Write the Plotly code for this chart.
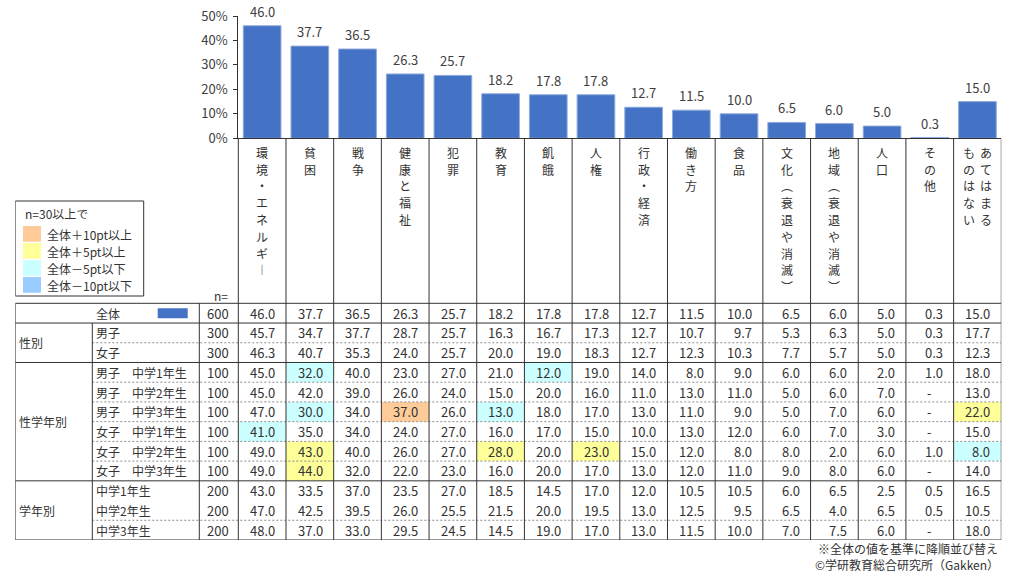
import plotly.graph_objects as go

# ---------------- data ----------------
categories = ["環境・エネルギー", "貧困", "戦争", "健康と福祉", "犯罪", "教育", "飢餓", "人権",
              "行政・経済", "働き方", "食品", "文化（衰退や消滅）", "地域（衰退や消滅）", "人口",
              "その他", "あてはまるものはない"]
overall = [46.0, 37.7, 36.5, 26.3, 25.7, 18.2, 17.8, 17.8, 12.7, 11.5, 10.0, 6.5, 6.0, 5.0, 0.3, 15.0]
boys = [45.7, 34.7, 37.7, 28.7, 25.7, 16.3, 16.7, 17.3, 12.7, 10.7, 9.7, 5.3, 6.3, 5.0, 0.3, 17.7]
girls = [46.3, 40.7, 35.3, 24.0, 25.7, 20.0, 19.0, 18.3, 12.7, 12.3, 10.3, 7.7, 5.7, 5.0, 0.3, 12.3]
boys_g1 = [45.0, 32.0, 40.0, 23.0, 27.0, 21.0, 12.0, 19.0, 14.0, 8.0, 9.0, 6.0, 6.0, 2.0, 1.0, 18.0]
boys_g2 = [45.0, 42.0, 39.0, 26.0, 24.0, 15.0, 20.0, 16.0, 11.0, 13.0, 11.0, 5.0, 6.0, 7.0, None, 13.0]
boys_g3 = [47.0, 30.0, 34.0, 37.0, 26.0, 13.0, 18.0, 17.0, 13.0, 11.0, 9.0, 5.0, 7.0, 6.0, None, 22.0]
girls_g1 = [41.0, 35.0, 34.0, 24.0, 27.0, 16.0, 17.0, 15.0, 10.0, 13.0, 12.0, 6.0, 7.0, 3.0, None, 15.0]
girls_g2 = [49.0, 43.0, 40.0, 26.0, 27.0, 28.0, 20.0, 23.0, 15.0, 12.0, 8.0, 8.0, 2.0, 6.0, 1.0, 8.0]
girls_g3 = [49.0, 44.0, 32.0, 22.0, 23.0, 16.0, 20.0, 17.0, 13.0, 12.0, 11.0, 9.0, 8.0, 6.0, None, 14.0]
grade1 = [43.0, 33.5, 37.0, 23.5, 27.0, 18.5, 14.5, 17.0, 12.0, 10.5, 10.5, 6.0, 6.5, 2.5, 0.5, 16.5]
grade2 = [47.0, 42.5, 39.5, 26.0, 25.5, 21.5, 20.0, 19.5, 13.0, 12.5, 9.5, 6.5, 4.0, 6.5, 0.5, 10.5]
grade3 = [48.0, 37.0, 33.0, 29.5, 24.5, 14.5, 19.0, 17.0, 13.0, 11.5, 10.0, 7.0, 7.5, 6.0, None, 18.0]

row_labels = ["全体", "男子", "女子", "男子　中学1年生", "男子　中学2年生", "男子　中学3年生",
              "女子　中学1年生", "女子　中学2年生", "女子　中学3年生", "中学1年生", "中学2年生", "中学3年生"]
row_n = [600, 300, 300, 100, 100, 100, 100, 100, 100, 200, 200, 200]
rows = [overall, boys, girls, boys_g1, boys_g2, boys_g3, girls_g1, girls_g2, girls_g3,
        grade1, grade2, grade3]
group_names = ["性別", "性学年別", "学年別"]
group_first = [1, 3, 9]
group_last = [2, 8, 11]
dashed_after = [1, 3, 4, 5, 6, 7, 10]   # dashed separator below these rows

y_ticks = [0, 10, 20, 30, 40, 50]
y_tick_text = ["0%", "10%", "20%", "30%", "40%", "50%"]
legend_title = "n=30以上で"
legend_labels = ["全体＋10pt以上", "全体＋5pt以上", "全体－5pt以下", "全体－10pt以下"]
legend_colors = ["#FFCC99", "#FFFF99", "#CCFFFF", "#99CCFF"]
note1 = "※全体の値を基準に降順並び替え"
note2 = "©学研教育総合研究所（Gakken）"

# ---------------- layout constants (pixels) ----------------
W, H = 1029, 580
FONT = "Noto Sans CJK JP, Meiryo, sans-serif"
TXT = "#333333"
LINE = "#333333"
BAR = "#4472C4"
NUM_SIZE = 13
JP_SIZE = 12

COL_L, COL_R = 238.3, 1001.3
NC = len(categories)
U = (COL_R - COL_L) / NC
TBL_L, LBL_X, N_X = 15.3, 92.3, 199.3
HDR_TOP, TAB_TOP, TAB_BOT = 138.3, 303.3, 540.0
NR = len(rows)
RH = (TAB_BOT - TAB_TOP) / NR
BAR_TOP = 16.0


def tx(p):
    """pixel x -> table axis units"""
    return -0.5 + (p - COL_L) / U


def ty(p):
    """pixel y -> table axis units"""
    return -0.5 + (p - TAB_TOP) / RH


fig = go.Figure()

fig.add_trace(go.Bar(
    x=categories, y=overall, width=0.79,
    marker=dict(color=BAR, line=dict(color="#8FAADC", width=1)),
    hovertemplate="%{x}: %{y:.1f}%<extra></extra>", showlegend=False,
))
fig.add_trace(go.Scatter(x=[None], y=[None], xaxis="x2", yaxis="y2", mode="markers",
                         showlegend=False, hoverinfo="skip"))

ann = []
shapes = []

for c, v in zip(categories, overall):
    ann.append(dict(x=c, y=v, xref="x", yref="y", text=f"{v:.1f}", showarrow=False,
                    yanchor="bottom", yshift=3, font=dict(size=NUM_SIZE, color="#404040", family=FONT)))

for i, (vals, n) in enumerate(zip(rows, row_n)):
    if i == 0 or n < 30:
        continue
    for j, v in enumerate(vals):
        if v is None:
            continue
        d = round(v - overall[j], 1)
        col = None
        if d >= 10:
            col = legend_colors[0]
        elif d >= 5:
            col = legend_colors[1]
        elif d <= -10:
            col = legend_colors[3]
        elif d <= -5:
            col = legend_colors[2]
        if col:
            shapes.append(dict(type="rect", xref="x2", yref="y2", x0=j - 0.5, x1=j + 0.5,
                               y0=i - 0.5, y1=i + 0.5, fillcolor=col, line=dict(width=0), layer="below"))


def hline(y, x0, x1, dash=None, color=LINE):
    ln = dict(color=color, width=1)
    if dash:
        ln["dash"] = dash
    shapes.append(dict(type="line", xref="x2", yref="y2", x0=x0, x1=x1, y0=y, y1=y, line=ln))


def vline(x, y0, y1):
    shapes.append(dict(type="line", xref="x2", yref="y2", x0=x, x1=x, y0=y0, y1=y1,
                       line=dict(color=LINE, width=1)))


x_right = NC - 0.5
for r in dashed_after:
    hline(r + 0.5, tx(LBL_X), x_right, dash="2px,2px", color="#8C8C8C")
for y in [-0.5, 0.5] + [g + 0.5 for g in group_last]:
    hline(y, tx(TBL_L), x_right)
vline(tx(TBL_L), -0.5, NR - 0.5)
vline(tx(LBL_X), 0.5, NR - 0.5)
vline(tx(N_X), -0.5, NR - 0.5)
for k in range(NC + 1):
    vline(k - 0.5, ty(HDR_TOP), NR - 0.5)

# series swatch in the 全体 row
shapes.append(dict(type="rect", xref="x2", yref="y2", x0=tx(157.7), x1=tx(187.7),
                   y0=ty(308.3), y1=ty(318.3), fillcolor=BAR, line=dict(width=0)))

# custom colour legend
shapes.append(dict(type="rect", xref="x2", yref="y2", x0=tx(15.3), x1=tx(143.7),
                   y0=ty(201), y1=ty(296), fillcolor="white", line=dict(color=LINE, width=1)))
ann.append(dict(x=tx(23), y=ty(213), xref="x2", yref="y2", text=legend_title, showarrow=False,
                xanchor="left", font=dict(size=JP_SIZE, color=TXT, family=FONT)))
sw_top = [226.0, 243.0, 260.0, 277.0]
for lab, col, t in zip(legend_labels, legend_colors, sw_top):
    shapes.append(dict(type="rect", xref="x2", yref="y2", x0=tx(23), x1=tx(41),
                       y0=ty(t), y1=ty(t + 15.7), fillcolor=col, line=dict(width=0)))
    ann.append(dict(x=tx(44.5), y=ty(t + 8), xref="x2", yref="y2", text=lab, showarrow=False,
                    xanchor="left", font=dict(size=JP_SIZE, color=TXT, family=FONT)))

ann.append(dict(x=tx(230), y=ty(295.5), xref="x2", yref="y2", text="n=", showarrow=False,
                xanchor="right", font=dict(size=JP_SIZE, color=TXT, family=FONT)))

# vertical category headers
VMAP = {"（": "︵", "）": "︶", "ー": "︱"}
CH0, CHS = 152.3, 16.8
for j, lab in enumerate(categories):
    if len(lab) > 9:
        cols = [(lab[:5], 8.8), (lab[5:], -8.3)]
    else:
        cols = [(lab, 0.0)]
    for text, off in cols:
        for k, ch in enumerate(text):
            ann.append(dict(x=j + off / U, y=ty(CH0 + k * CHS), xref="x2", yref="y2",
                            text=VMAP.get(ch, ch), showarrow=False,
                            font=dict(size=JP_SIZE, color=TXT, family=FONT)))

# table body
NUM_PAD = 9.0
for i, (lab, n, vals) in enumerate(zip(row_labels, row_n, rows)):
    if i == 0:
        ann.append(dict(x=tx(108.3), y=i, xref="x2", yref="y2", text=lab, showarrow=False,
                        font=dict(size=JP_SIZE, color=TXT, family=FONT)))
    else:
        ann.append(dict(x=tx(93.5), y=i, xref="x2", yref="y2", text=lab, showarrow=False,
                        xanchor="left", font=dict(size=JP_SIZE, color=TXT, family=FONT)))
    ann.append(dict(x=tx(230.5), y=i, xref="x2", yref="y2", text=str(n), showarrow=False,
                    xanchor="right", font=dict(size=NUM_SIZE, color=TXT, family=FONT)))
    for j, v in enumerate(vals):
        if v is None:
            ann.append(dict(x=j, y=i, xref="x2", yref="y2", text="-", showarrow=False,
                            font=dict(size=NUM_SIZE, color=TXT, family=FONT)))
        else:
            ann.append(dict(x=j + 0.5 - NUM_PAD / U, y=i, xref="x2", yref="y2", text=f"{v:.1f}",
                            showarrow=False, xanchor="right",
                            font=dict(size=NUM_SIZE, color=TXT, family=FONT)))

for g, a, b in zip(group_names, group_first, group_last):
    ann.append(dict(x=tx(16.5), y=(a + b) / 2, xref="x2", yref="y2", text=g, showarrow=False,
                    xanchor="left", font=dict(size=JP_SIZE, color=TXT, family=FONT)))

ann.append(dict(x=1000 / W, y=1 - 548.3 / H, xref="paper", yref="paper", text=note1,
                showarrow=False, xanchor="right", yanchor="middle",
                font=dict(size=JP_SIZE, color=TXT, family=FONT)))
ann.append(dict(x=1001 / W, y=1 - 564.5 / H, xref="paper", yref="paper", text=note2,
                showarrow=False, xanchor="right", yanchor="middle",
                font=dict(size=JP_SIZE, color=TXT, family=FONT)))

fig.update_layout(
    width=W, height=H, autosize=False,
    margin=dict(l=0, r=0, t=0, b=0, pad=0, autoexpand=False),
    paper_bgcolor="white", plot_bgcolor="rgba(0,0,0,0)",
    font=dict(family=FONT, size=12, color=TXT),
    showlegend=False,
    bargap=0,
    xaxis=dict(domain=[COL_L / W, COL_R / W], range=[-0.5, NC - 0.5], showticklabels=False,
               showline=True, linecolor=LINE, linewidth=1, ticks="", showgrid=False, zeroline=False,
               fixedrange=True, anchor="y", automargin=False),
    yaxis=dict(domain=[1 - HDR_TOP / H, 1 - BAR_TOP / H], range=[0, 50], tickmode="array",
               tickvals=y_ticks, ticktext=y_tick_text, showline=True, linecolor=LINE, linewidth=1,
               ticks="outside", ticklen=4, tickcolor=LINE, showgrid=False, zeroline=False,
               ticklabelstandoff=3, ticklabeloverflow="allow",
               tickfont=dict(size=NUM_SIZE, color="#404040", family=FONT), fixedrange=True,
               anchor="x", automargin=False),
    xaxis2=dict(domain=[TBL_L / W, COL_R / W], range=[tx(TBL_L), NC - 0.5], visible=False,
                fixedrange=True, anchor="y2", automargin=False),
    yaxis2=dict(domain=[1 - TAB_BOT / H, 1 - HDR_TOP / H], range=[NR - 0.5, ty(HDR_TOP)],
                visible=False, fixedrange=True, anchor="x2", automargin=False),
    annotations=ann,
    shapes=shapes,
)

# the page's default 8px body margin would push the 1029x580 figure off the window
fig.write_html("out.html",
               config={"displayModeBar": False, "staticPlot": True},
               post_script="document.body.style.margin='0px';document.body.style.overflow='hidden';")
